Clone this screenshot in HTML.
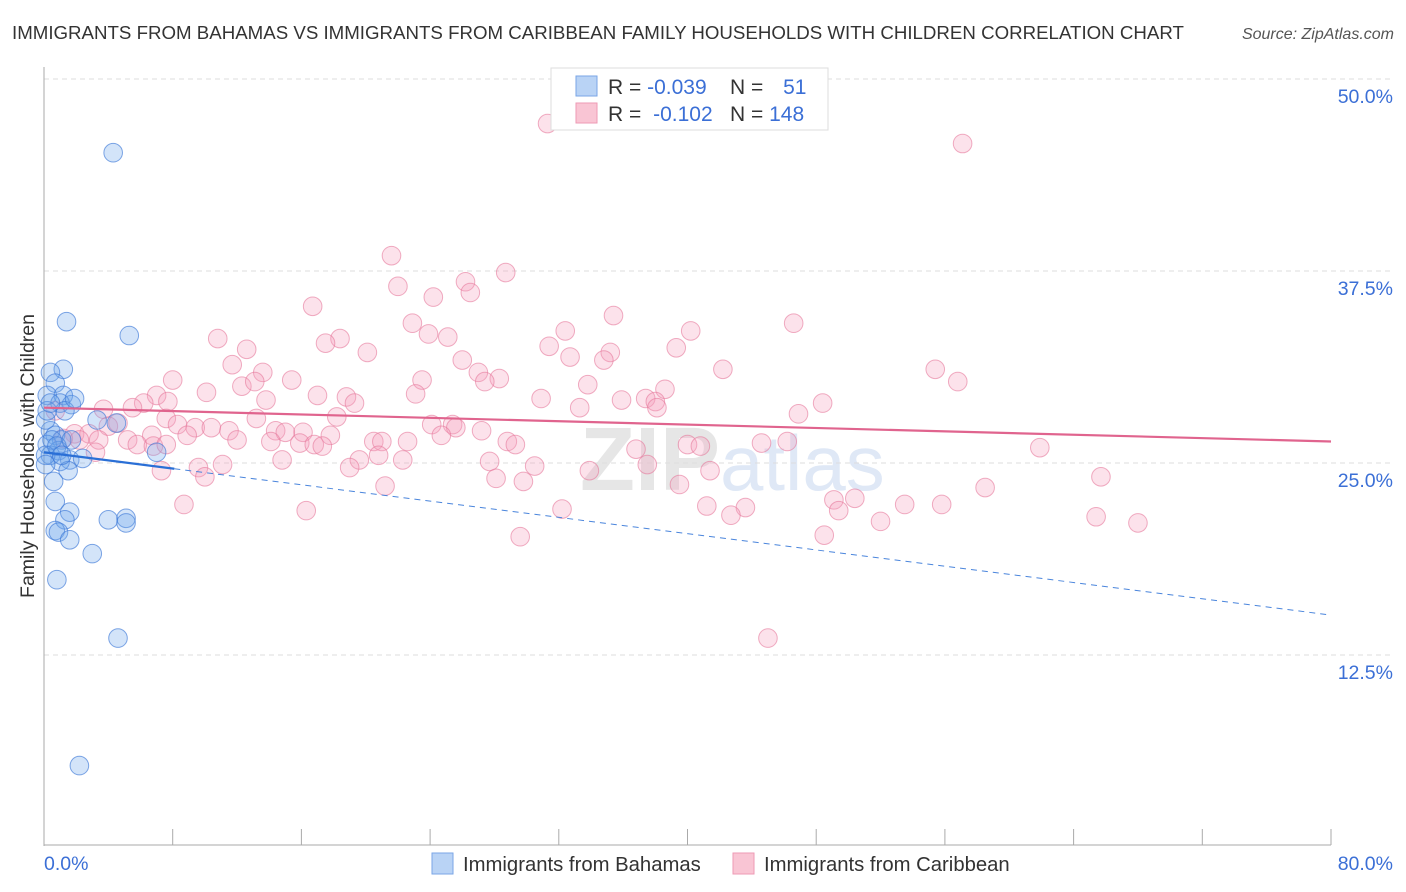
<!DOCTYPE html>
<html><head><meta charset="utf-8"><style>
body{margin:0;background:#fff;font-family:"Liberation Sans",sans-serif;}
#c{position:relative;width:1406px;height:892px;overflow:hidden;}
</style></head><body>
<div id="c">
<svg id="s" width="1406" height="892" xmlns="http://www.w3.org/2000/svg">
<text x="12" y="39" font-size="18.7" fill="#333">IMMIGRANTS FROM BAHAMAS VS IMMIGRANTS FROM CARIBBEAN FAMILY HOUSEHOLDS WITH CHILDREN CORRELATION CHART</text>
<text x="1394" y="39" font-size="16" fill="#555" font-style="italic" text-anchor="end">Source: ZipAtlas.com</text>
<text x="720" y="490" font-size="90" font-weight="bold" fill="#e6e6e6" text-anchor="end">ZIP</text>
<text x="720" y="490" font-size="78" fill="#dfe8f6">atlas</text>
<g id="grid"></g><g id="axes"></g><g id="pts"></g><g id="trend"></g>
<text transform="translate(34,456) rotate(-90)" font-size="19.5" fill="#333" text-anchor="middle">Family Households with Children</text>
<g>
<rect x="551" y="68" width="277" height="62" fill="#fff" stroke="#ddd"/>
<rect x="576" y="76" width="21" height="20" fill="#b9d3f5" stroke="#7aa6e6"/>
<rect x="576" y="103" width="21" height="20" fill="#f9c5d4" stroke="#ee9ab4"/>
<text x="608" y="94" font-size="21" fill="#333">R = <tspan fill="#3b6fd6">-0.039</tspan></text>
<text x="730" y="94" font-size="21" fill="#333">N = <tspan fill="#3b6fd6" dx="14">51</tspan></text>
<text x="608" y="121" font-size="21" fill="#333">R = <tspan fill="#3b6fd6" dx="6">-0.102</tspan></text>
<text x="730" y="121" font-size="21" fill="#333">N = <tspan fill="#3b6fd6">148</tspan></text>
</g>
<g>
<rect x="432" y="853" width="21" height="21" fill="#b9d3f5" stroke="#7aa6e6"/>
<text x="463" y="871" font-size="20.3" fill="#333">Immigrants from Bahamas</text>
<rect x="733" y="853" width="21" height="21" fill="#f9c5d4" stroke="#ee9ab4"/>
<text x="764" y="871" font-size="20.3" fill="#333">Immigrants from Caribbean</text>
</g>
</svg>
</div>
<script>
const yTicks=[12.5,25,37.5,50];
const yTickLabels=["12.5%","25.0%","37.5%","50.0%"];
const xTickLabels=["0.0%","80.0%"];
const bahamasX=[4.3,1.4,5.3,1.2,0.4,0.7,0.2,1.2,1.7,1.0,1.3,3.3,4.5,0.4,0.7,1.1,0.2,0.9,0.4,1.6,2.4,7.0,1.0,1.5,0.6,0.7,1.6,1.3,4.0,5.1,5.1,0.7,0.9,1.6,3.0,0.8,4.6,2.2,0.1,0.2,0.5,0.1,0.8,0.1,1.7,1.1,0.4,1.9];
const bahamasY=[45.2,34.2,33.3,31.1,30.9,30.2,29.4,29.4,28.8,28.9,28.4,27.8,27.6,27.1,26.8,26.5,26.2,25.8,25.5,25.2,25.3,25.7,25.1,24.5,23.8,22.5,21.8,21.3,21.3,21.4,21.1,20.6,20.5,20.0,19.1,17.4,13.6,5.3,27.8,28.4,26.5,25.5,26.1,24.9,26.5,25.5,28.9,29.2];
const caribX=[31.3,57.1,21.6,28.7,26.2,22.0,26.5,24.2,16.7,35.4,46.6,22.9,32.4,40.2,23.9,25.1,10.8,18.4,17.5,31.4,39.3,12.6,20.1,35.2,32.7,26.0,34.8,11.7,42.2,55.4,13.6,27.0,8.0,15.4,23.5,28.3,27.4,56.8,33.8,12.3,13.1,38.6,10.1,7.0,17.0,23.1,30.9,35.9,37.4,38.0,18.8,13.8,19.3,7.7,6.2,5.5,38.1,48.4,33.3,46.9,0.7,3.7,7.6,13.2,18.2,8.3,9.4,10.4,4.0,4.6,11.5,14.4,16.1,15.0,24.1,25.4,25.6,27.2,17.8,1.9,2.8,6.7,8.9,1.2,2.2,3.4,5.2,24.7,12.0,14.1,15.9,16.8,17.3,20.5,21.0,22.6,28.8,29.3,40.0,40.8,44.6,46.2,5.8,6.8,7.6,61.9,36.8,3.2,20.8,19.6,22.3,14.8,27.7,11.1,9.6,19.0,30.5,37.5,41.4,7.3,33.9,10.0,28.1,29.8,39.5,65.7,21.2,58.5,49.1,50.4,8.7,41.2,43.6,53.5,55.8,16.3,32.2,49.4,42.7,65.4,52.0,68.0,48.5,29.6,45.0];
const caribY=[47.1,45.8,38.5,37.4,36.8,36.5,36.1,35.8,35.2,34.6,34.1,34.1,33.6,33.6,33.4,33.2,33.1,33.1,32.8,32.6,32.5,32.4,32.2,32.2,31.9,31.7,31.7,31.4,31.1,31.1,30.9,30.9,30.4,30.4,30.4,30.5,30.3,30.3,30.1,30.0,30.3,29.8,29.6,29.4,29.4,29.5,29.2,29.1,29.2,29.0,29.3,29.1,28.9,29.0,28.9,28.6,28.6,28.9,28.6,28.2,28.4,28.5,27.9,27.9,28.0,27.5,27.3,27.3,27.4,27.6,27.1,27.1,27.0,27.0,27.5,27.5,27.3,27.1,26.8,26.9,26.9,26.8,26.8,26.6,26.5,26.5,26.5,26.8,26.5,26.4,26.3,26.2,26.1,26.4,26.4,26.4,26.4,26.2,26.2,26.1,26.3,26.4,26.2,26.1,26.2,26.0,25.9,25.7,25.5,25.2,25.2,25.2,25.1,24.9,24.7,24.7,24.8,24.9,24.5,24.5,24.5,24.1,24.0,23.8,23.6,24.1,23.5,23.4,22.6,22.7,22.3,22.2,22.1,22.3,22.3,21.9,22.0,21.9,21.6,21.5,21.2,21.1,20.3,20.2,13.6];
const caribTrend=[28.6,26.4];
const bahamasTrend=[25.7,15.1];
const bahamasSolidEnd=8.1;
const NS="http://www.w3.org/2000/svg";
const X=v=>44+v/80*1287, Y=v=>847-v/50*768;
function mk(tag,attrs,parent){const e=document.createElementNS(NS,tag);for(const k in attrs)e.setAttribute(k,attrs[k]);document.getElementById(parent).appendChild(e);return e;}
yTicks.forEach((t,i)=>{
 const g=mk('line',{x1:44,x2:1394,y1:Y(t),y2:Y(t),stroke:'#ddd','stroke-dasharray':'5,4'},'grid');
 
 
 const l=mk('text',{x:1393,y:Y(t)+24,'font-size':19.5,fill:'#3b6fd6','text-anchor':'end'},'axes');
 l.textContent=yTickLabels[i];
 
 
});
const ya=mk('line',{x1:44,x2:44,y1:67,y2:846,stroke:'#aaa'},'axes');


const xa=mk('line',{x1:44,x2:1331,y1:845,y2:845,stroke:'#aaa'},'axes');


for(let k=1;k<=10;k++){const t=mk('line',{x1:X(k*8),x2:X(k*8),y1:829,y2:845,stroke:'#aaa'},'axes');
 
 }
const x0=mk('text',{x:44,y:870,'font-size':19.5,fill:'#3b6fd6'},'axes');x0.textContent=xTickLabels[0];


const x1=mk('text',{x:1393,y:870,'font-size':19.5,fill:'#3b6fd6','text-anchor':'end'},'axes');x1.textContent=xTickLabels[1];


caribX.forEach((v,i)=>{const c=mk('circle',{cx:X(v),cy:Y(caribY[i]),r:9.3,fill:'rgba(244,160,188,0.3)',stroke:'rgba(230,120,155,0.6)','stroke-width':1},'pts');
 
 });
bahamasX.forEach((v,i)=>{const c=mk('circle',{cx:X(v),cy:Y(bahamasY[i]),r:9.3,fill:'rgba(110,165,235,0.3)',stroke:'rgba(60,120,215,0.65)','stroke-width':1},'pts');
 
 });
const bt=v=>bahamasTrend[0]+(bahamasTrend[1]-bahamasTrend[0])*v/80;
const tl1=mk('line',{x1:X(0),y1:Y(caribTrend[0]),x2:X(80),y2:Y(caribTrend[1]),stroke:'#e0648e','stroke-width':2.2},'trend');


const tl2=mk('line',{x1:X(0),y1:Y(bt(0)),x2:X(bahamasSolidEnd),y2:Y(bt(bahamasSolidEnd)),stroke:'#2a6fd6','stroke-width':2.2},'trend');


const tl3=mk('line',{x1:X(bahamasSolidEnd),y1:Y(bt(bahamasSolidEnd)),x2:X(80),y2:Y(bt(80)),stroke:'#4a85dc','stroke-width':1,'stroke-dasharray':'6,5'},'trend');


</script>
</body></html>
